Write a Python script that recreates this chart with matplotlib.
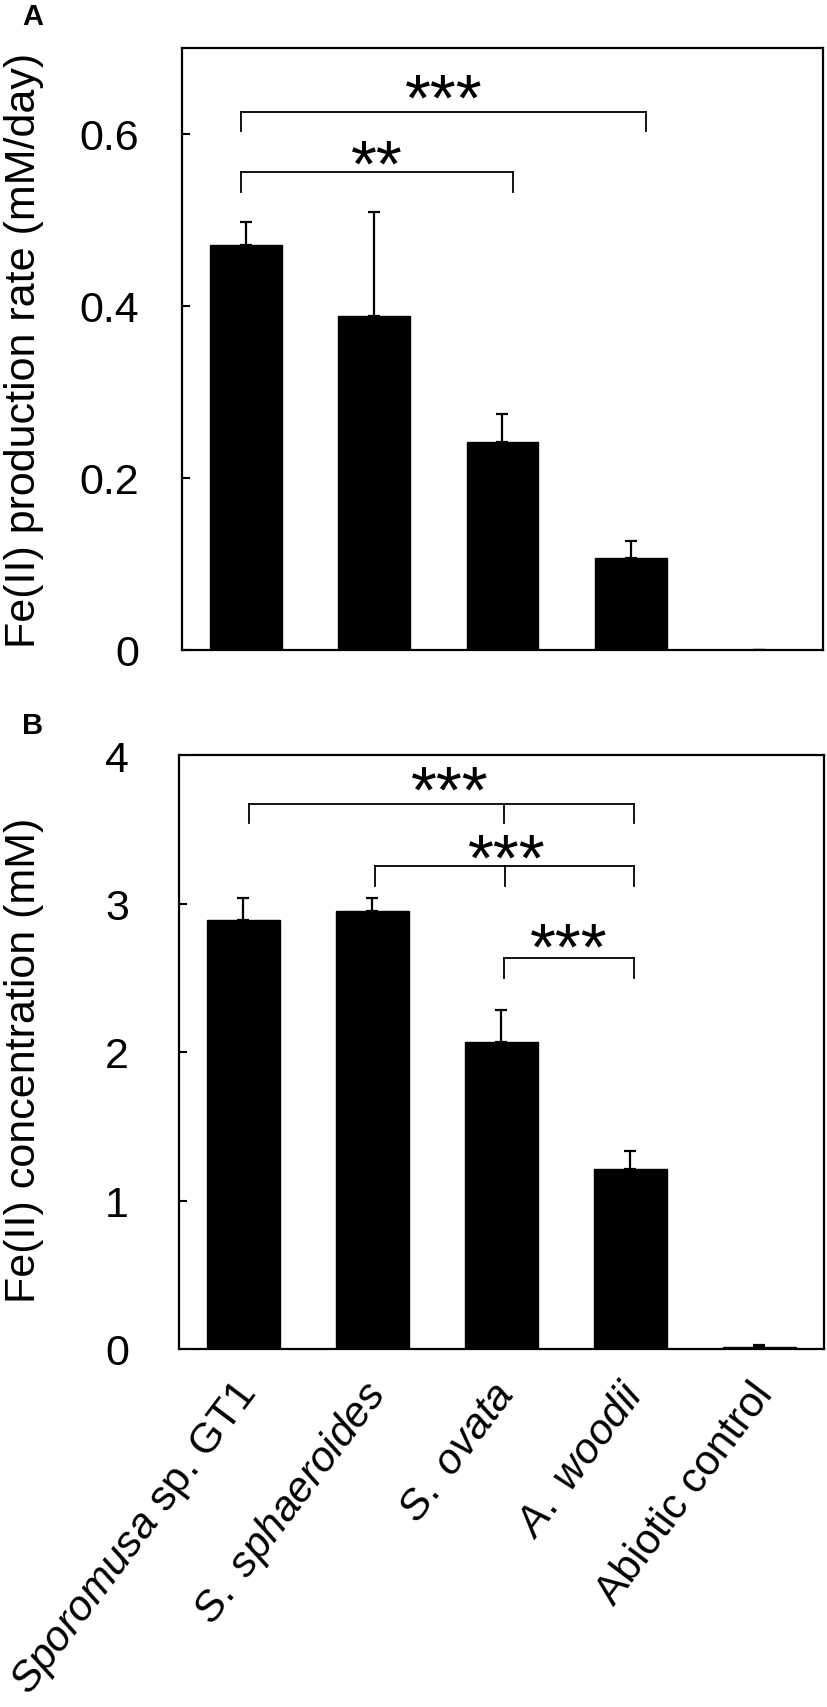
import matplotlib
matplotlib.use('Agg')
import matplotlib.pyplot as plt

plt.rcParams['font.family'] = ['Liberation Sans', 'DejaVu Sans']
plt.rcParams['mathtext.fontset'] = 'custom'
plt.rcParams['mathtext.rm'] = 'Liberation Sans'
plt.rcParams['mathtext.it'] = 'Liberation Sans:italic'

# strains
labels = [r'$\mathit{Sporomusa}$ sp. GT1', r'$\mathit{S.\ sphaeroides}$',
          r'$\mathit{S.\ ovata}$', r'$\mathit{A.\ woodii}$', 'Abiotic control']

# A: Fe(II) production rate (mM/day)
rate = [0.471, 0.388, 0.242, 0.107, 0.0]
rate_err = [0.027, 0.121, 0.033, 0.020, 0.0]

# B: Fe(II) concentration (mM)
conc = [2.89, 2.95, 2.07, 1.21, 0.015]
conc_err = [0.15, 0.09, 0.21, 0.12, 0.01]

# significance brackets: leg x positions, top y, leg bottom y, stars, star x, star y
sig_a = [
    ([-0.04, 3.12], 0.626, 0.604, '***', 1.54, 0.653),
    ([-0.04, 2.08], 0.556, 0.532, '**', 1.02, 0.577),
]
sig_b = [
    ([0.04, 2.02, 3.03], 3.67, 3.54, '***', 1.60, 3.83),
    ([1.02, 2.03, 3.03], 3.25, 3.12, '***', 2.04, 3.37),
    ([2.02, 3.03], 2.63, 2.50, '***', 2.52, 2.77),
]

fig = plt.figure(figsize=(8.28, 17.08), dpi=100)
axA = fig.add_axes([182/828, 1-651/1708, 641/828, 602/1708])
axB = fig.add_axes([179/828, 1-1350/1708, 645/828, 594/1708])

x = list(range(len(labels)))
star_fs = 48


def draw_panel(ax, vals, errs, sig, ylim, yticks, yticklabels, pad):
    lower = [0]*len(errs)
    ax.bar(x, vals, width=0.56, color='black', edgecolor='black',
           yerr=[lower, errs], capsize=4,
           error_kw=dict(elinewidth=1.6, capthick=1.6, ecolor='black'))
    for legs, ytop, ybot, stars, sx, sy in sig:
        ax.plot([legs[0], legs[-1]], [ytop, ytop], color='black', lw=1.3)
        for lx in legs:
            ax.plot([lx, lx], [ytop, ybot], color='black', lw=1.3)
        ax.annotate(stars, (sx, sy), xytext=(0, -0.47*star_fs), textcoords='offset points',
                    ha='center', va='baseline', fontsize=star_fs)
    ax.set_xlim(-0.5, 4.5)
    ax.set_ylim(*ylim)
    ax.set_yticks(yticks)
    ax.set_yticklabels(yticklabels)
    ax.tick_params(axis='y', direction='in', length=6, width=1.5, pad=pad, labelsize=31)
    ax.set_xticks([])
    for s in ax.spines.values():
        s.set_linewidth(1.6)


draw_panel(axA, rate, rate_err, sig_a, (0, 0.7), [0, 0.2, 0.4, 0.6],
           ['0', '0.2', '0.4', '0.6'], 31)
draw_panel(axB, conc, conc_err, sig_b, (0, 4), [0, 1, 2, 3, 4],
           ['0', '1', '2', '3', '4'], 36)

# rotated category labels under panel B
for i, lab in enumerate(labels):
    axB.annotate(lab, (i, 0), xycoords=('data', 'axes fraction'),
                 xytext=(4, -27), textcoords='offset points',
                 rotation=53, rotation_mode='anchor', ha='right', va='center',
                 fontsize=30.5)

fig.text(44/828, 1-350/1708, 'Fe(II) production rate (mM/day)', rotation=90,
         ha='right', va='center', fontsize=31)
fig.text(44/828, 1-1060/1708, 'Fe(II) concentration (mM)', rotation=90,
         ha='right', va='center', fontsize=31)
fig.text(33/828, 1-17/1708, 'A', fontsize=21, fontweight='bold', ha='center', va='center')
fig.text(33/828, 1-726/1708, 'B', fontsize=21, fontweight='bold', ha='center', va='center')

fig.savefig('out.png', dpi=100)
